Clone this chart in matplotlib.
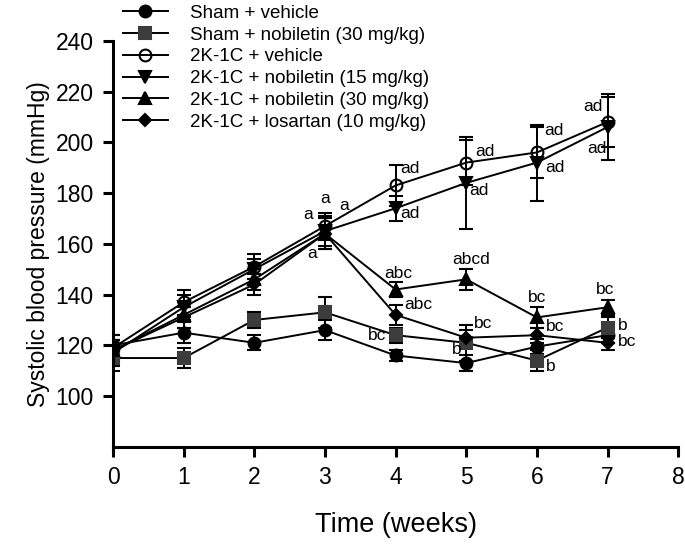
import matplotlib.pyplot as plt
from matplotlib.lines import Line2D

plt.rcParams['font.family'] = ['Liberation Sans', 'DejaVu Sans']

# data
weeks = [0, 1, 2, 3, 4, 5, 6, 7]

sham_veh = [120, 125, 121, 126, 116, 113, 119.5, 124]
sham_veh_err = [4, 4, 3, 4, 2, 3, 3, 3]

sham_nob = [115, 115, 130, 133, 124, 121, 114, 127]
sham_nob_err = [5, 4, 3, 6, 3, 7, 4, 4]

k2_veh = [119, 137, 151, 167, 183, 192, 196, 208]
k2_veh_err = [5, 5, 5, 5, 8, 9, 10, 10]

k2_nob15 = [117, 135, 150, 165, 174, 184, 192, 206]
k2_nob15_err = [5, 5, 4, 6, 5, 18, 15, 13]

k2_nob30 = [118, 132, 146, 164, 142, 146, 131, 135]
k2_nob30_err = [4, 5, 4, 6, 3, 4, 4, 3]

k2_los = [118, 131, 144, 164, 132, 123, 124, 121]
k2_los_err = [4, 4, 4, 6, 4, 3, 3, 3]

labels = ["Sham + vehicle", "Sham + nobiletin (30 mg/kg)", "2K-1C + vehicle",
          "2K-1C + nobiletin (15 mg/kg)", "2K-1C + nobiletin (30 mg/kg)",
          "2K-1C + losartan (10 mg/kg)"]

# significance letters: (text, week, value)
letters = [
    ("a", 2.76, 171.5), ("a", 3.0, 178), ("a", 3.27, 175), ("a", 2.82, 156),
    ("ad", 4.2, 189.5), ("ad", 4.2, 172), ("abc", 4.04, 148.5), ("abc", 4.32, 136),
    ("bc", 3.74, 124),
    ("ad", 5.26, 196.5), ("ad", 5.18, 181), ("abcd", 5.07, 154), ("bc", 5.24, 128.5),
    ("b", 4.86, 118.5),
    ("ad", 6.24, 204.5), ("ad", 6.26, 190), ("bc", 6.0, 139), ("bc", 6.26, 127.5),
    ("b", 6.2, 111.5),
    ("ad", 6.8, 214), ("ad", 6.85, 197.5), ("bc", 6.97, 142), ("b", 7.22, 128),
    ("bc", 7.28, 121.5),
]

fig = plt.figure(figsize=(6.85, 5.51), dpi=100)
ax = fig.add_axes([0.165, 0.189, 0.825, 0.737])

series = [
    (sham_veh, sham_veh_err, 'o', 'black', 'black'),
    (sham_nob, sham_nob_err, 's', '#3c3c3c', '#3c3c3c'),
    (k2_veh, k2_veh_err, 'o', 'none', 'black'),
    (k2_nob15, k2_nob15_err, 'v', 'black', 'black'),
    (k2_nob30, k2_nob30_err, '^', 'black', 'black'),
    (k2_los, k2_los_err, 'D', 'black', 'black'),
]

handles = []
for (vals, err, mk, fc, ec), lab in zip(series, labels):
    ms = 6.5 if mk == 'D' else 8.5
    ax.errorbar(weeks, vals, yerr=err, fmt='-', marker=mk, color='black',
                mfc=fc, mec=ec, mew=1.5, ms=ms, lw=1.4, elinewidth=1.4,
                capsize=5, capthick=1.4)
    handles.append(Line2D([], [], color='black', lw=1.4, marker=mk, mfc=fc,
                          mec=ec, mew=1.5, ms=ms, label=lab))

for txt, x, y in letters:
    ax.text(x, y, txt, fontsize=12.5, ha='center', va='center')

ax.set_xlim(0, 8)
ax.set_ylim(80, 240)
ax.set_xticks(range(9))
ax.set_yticks(range(100, 241, 20))
ax.tick_params(labelsize=16.5, width=2.2, length=7, pad=7)
for s in ['top', 'right']:
    ax.spines[s].set_visible(False)
for s in ['left', 'bottom']:
    ax.spines[s].set_linewidth(2.2)

ax.set_xlabel("Time (weeks)", fontsize=19.5, labelpad=16)
ax.set_ylabel("Systolic blood pressure (mmHg)", fontsize=16.5, labelpad=4)

fig.legend(handles=handles, loc='upper left', bbox_to_anchor=(0.163, 1.012),
           frameon=False, fontsize=13.5, handlelength=2.4, handletextpad=1.2,
           labelspacing=0.25, borderpad=0.1)

fig.savefig("out.png", dpi=100)
